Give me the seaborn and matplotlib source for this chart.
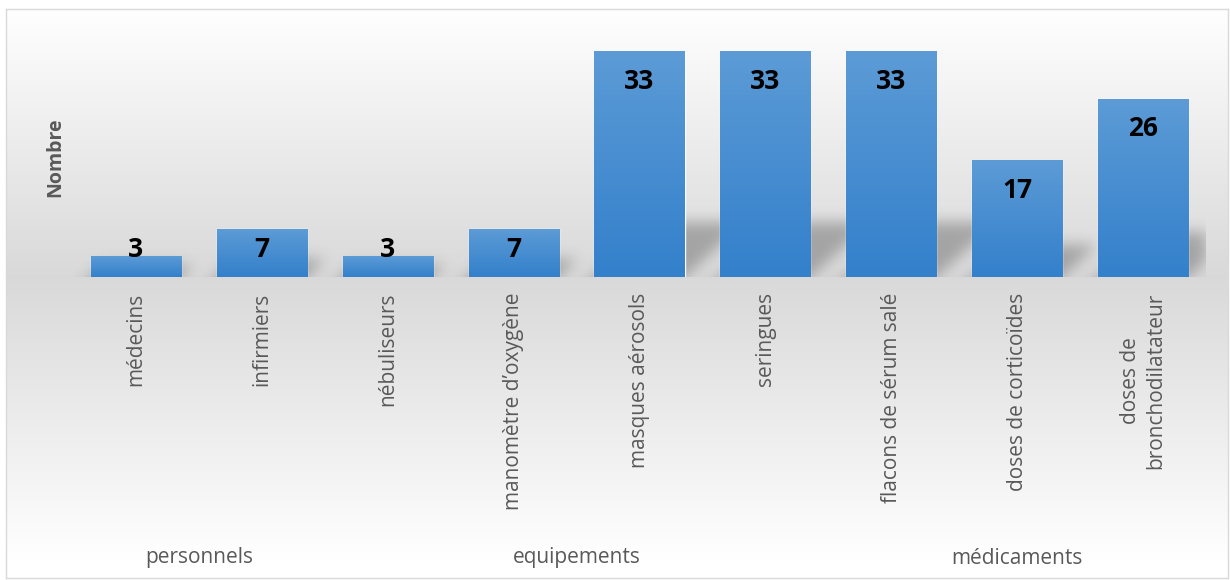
import numpy as np
import pandas as pd
import matplotlib
matplotlib.use("Agg")
import matplotlib.pyplot as plt
import matplotlib.transforms as mtransforms
from matplotlib.path import Path
from matplotlib.colors import LinearSegmentedColormap
import seaborn as sns

# ---- data ----
categories = ["médecins", "infirmiers", "nébuliseurs", "manomètre d’oxygène",
              "masques aérosols", "seringues", "flacons de sérum salé",
              "doses de corticoïdes", "doses de\nbronchodilatateur"]
counts = [3, 7, 3, 7, 33, 33, 33, 17, 26]
groups = ["personnels", "personnels",
          "equipements", "equipements", "equipements", "equipements",
          "médicaments", "médicaments", "médicaments"]
group_names = ["personnels", "equipements", "médicaments"]
y_max = 35

# ---- style ----
sns.set_theme(style="white")
plt.rcParams["font.family"] = ["Open Sans", "DejaVu Sans"]
grey_text = "#595959"

W, H = 1230, 580
fig = plt.figure(figsize=(W / 100, H / 100), dpi=100)
fig.patch.set_facecolor("white")

# layout in pixels
ax_left, ax_right, ax_top, ax_base = 73, 1206, 38, 277
fr_l, fr_t, fr_r, fr_b = 6, 9, 1228, 578

# chart area: vertical grey gradient, darkest along the baseline, with a thin frame
bg = fig.add_axes([fr_l / W, 1 - fr_b / H, (fr_r - fr_l) / W, (fr_b - fr_t) / H], zorder=-5)
rows = np.arange(fr_t, fr_b) + 0.5
t = np.where(rows <= ax_base,
             (rows - fr_t) / (ax_base - fr_t),
             1 - (rows - ax_base) / (fr_b - 18 - ax_base))
t = np.clip(t, 0, 1)
shade = 1.0 - 0.15 * t
bg_img = np.repeat(shade[:, None], 3, axis=1)[:, None, :]
bg.imshow(bg_img, aspect="auto", extent=[0, 1, 0, 1], interpolation="bilinear")
bg.set_xticks([])
bg.set_yticks([])
for sp in bg.spines.values():
    sp.set_color("#d9d9d9")
    sp.set_linewidth(1)

# main plot
axW, axH = ax_right - ax_left, ax_base - ax_top
ax = fig.add_axes([ax_left / W, 1 - ax_base / H, axW / W, axH / H])
ax.set_facecolor("none")

df = pd.DataFrame({"catégorie": categories, "nombre": counts})
sns.barplot(data=df, x="catégorie", y="nombre", color="#4a90d4", saturation=1,
            width=0.715, ax=ax, zorder=3)
bars = list(ax.patches)
xlim = (-0.5, len(categories) - 0.5)
ax.set_xlim(*xlim)
ax.set_ylim(0, y_max)

# vertical gradient fill on each bar
bar_cmap = LinearSegmentedColormap.from_list("bar", ["#3380cb", "#5c9bd6"])
grad = np.linspace(1, 0, 256)[:, None]
for p in bars:
    x0, w, h = p.get_x(), p.get_width(), p.get_height()
    ax.imshow(grad, cmap=bar_cmap, vmin=0, vmax=1, extent=[x0, x0 + w, 0, h],
              aspect="auto", zorder=3.5, interpolation="bilinear")

# soft perspective shadow cast behind each bar
pad = 40
yy, xx = np.mgrid[-pad:axH, 0:axW] + 0.5
pts = np.c_[xx.ravel(), yy.ravel()]
mask = np.zeros(xx.shape)
for p in bars:
    L = (p.get_x() - xlim[0]) / (xlim[1] - xlim[0]) * axW
    R = L + p.get_width() / (xlim[1] - xlim[0]) * axW
    hpx = p.get_height() / y_max * axH
    hs = 0.21 * hpx + 8
    s = 0.25 * hpx + 6
    k = s / hs
    poly = Path([(L - k * pad, -pad), (R - k * pad, -pad), (R + s, hs), (L + s, hs)])
    inside = poly.contains_points(pts).reshape(xx.shape)
    mask = np.maximum(mask, inside.astype(float))
sigma = 7
kx = np.arange(-3 * sigma, 3 * sigma + 1)
kern = np.exp(-kx ** 2 / (2 * sigma ** 2))
kern /= kern.sum()
mask = np.apply_along_axis(lambda r: np.convolve(r, kern, mode="same"), 1, mask)
mask = np.apply_along_axis(lambda c: np.convolve(c, kern, mode="same"), 0, mask)
mask = mask[pad:]
shadow = np.zeros(mask.shape + (4,))
shadow[..., :3] = 0.25
shadow[..., 3] = 0.36 * mask
ax.imshow(shadow, origin="lower", extent=[xlim[0], xlim[1], 0, y_max],
          aspect="auto", zorder=2, interpolation="bilinear")
ax.set_xlim(*xlim)
ax.set_ylim(0, y_max)

# value labels
for i, v in enumerate(counts):
    ax.text(i, max(v - 4.3, 3.96), str(v), ha="center", va="center",
            fontsize=19, fontweight="bold", color="black", zorder=5)

# axes dressing
for sp in ax.spines.values():
    sp.set_visible(False)
ax.set_yticks([])
ax.set_xlabel("")
ax.tick_params(axis="x", length=0, pad=11, labelsize=15, labelcolor=grey_text,
               rotation=90)
for lbl in ax.get_xticklabels():
    lbl.set_linespacing(1.25)
ax.set_ylabel("Nombre", fontsize=14, fontweight="bold", color=grey_text,
              va="center", ha="center")
ax.yaxis.set_label_coords((55 - ax_left) / axW, 0.5)

# group labels under the categories
trans = mtransforms.blended_transform_factory(ax.transData, fig.transFigure)
for g in group_names:
    idx = [i for i, gg in enumerate(groups) if gg == g]
    ax.text(np.mean(idx), 1 - 558 / H, g, transform=trans, ha="center",
            va="center", fontsize=15, color=grey_text, clip_on=False)

fig.savefig("out.png", dpi=100)
